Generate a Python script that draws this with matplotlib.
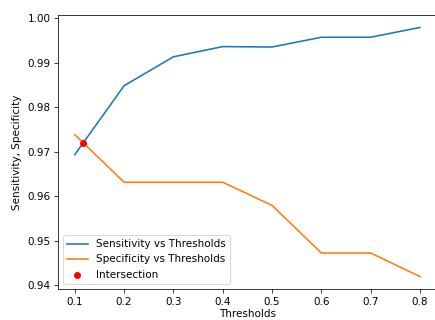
import numpy as np
import matplotlib
matplotlib.use("Agg")
import matplotlib.pyplot as plt

# values
thresholds = [0.1, 0.2, 0.3, 0.4, 0.5, 0.6, 0.7, 0.8]
sensitivity = [0.9693, 0.9848, 0.9913, 0.9936, 0.9935, 0.9957, 0.9957, 0.9979]
specificity = [0.9738, 0.9631, 0.9631, 0.9631, 0.9579, 0.9472, 0.9472, 0.9419]
intersect_x = [0.1172]
intersect_y = [0.9720]

plt.rcParams['font.size'] = 11
plt.rcParams['lines.linewidth'] = 1.7
plt.rcParams['xtick.major.size'] = 4
plt.rcParams['xtick.major.pad'] = 4.5
plt.rcParams['ytick.major.size'] = 4

# original looks like a default figure shrunk and cropped on the right
fig = plt.figure(figsize=(6.4, 320 / 68), dpi=68)
ax = fig.add_axes([57.5 / 435, 1 - 289 / 320, (437 - 57.5) / 435, (289 - 15) / 320])

ax.plot(thresholds, sensitivity, label='Sensitivity vs Thresholds')
ax.plot(thresholds, specificity, label='Specificity vs Thresholds')
ax.scatter(intersect_x, intersect_y, color='red', s=40, label='Intersection', zorder=3)

ax.set_xlabel('Thresholds', labelpad=2.5)
ax.set_ylabel('Sensitivity, Specificity', labelpad=5.5)
ax.legend(loc='lower left')

fig.savefig('out.png', dpi=68)
